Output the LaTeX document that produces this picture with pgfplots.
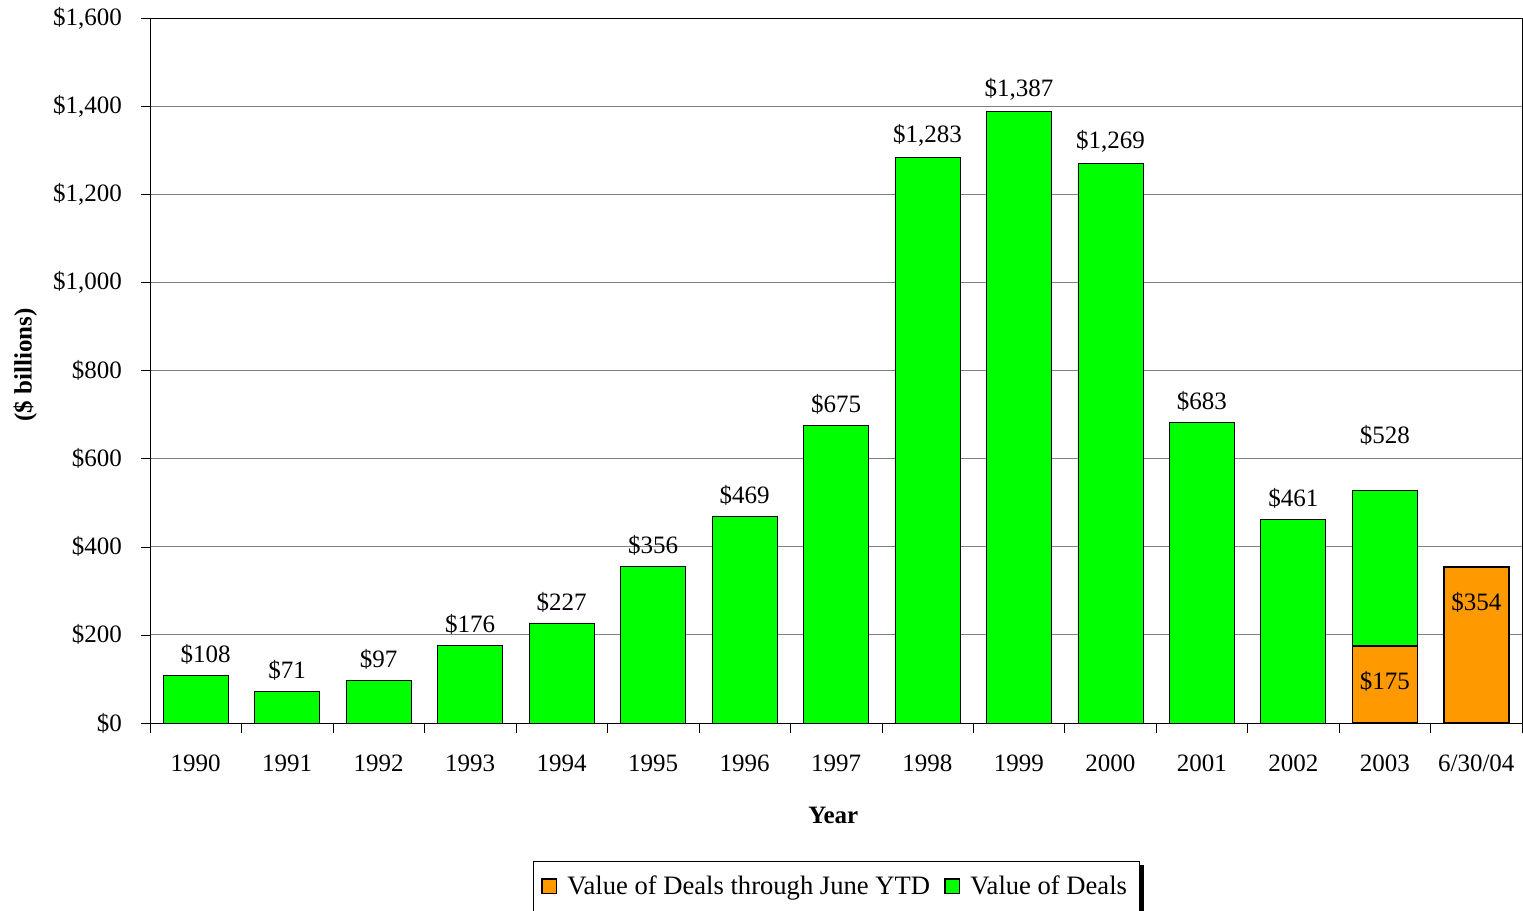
\documentclass[border=0pt]{standalone}
\usepackage{fontspec}
\setmainfont{Liberation Serif}
\usepackage{pgfplots}
\pgfplotsset{compat=1.18}
\definecolor{dgreen}{HTML}{00FF00}
\definecolor{dorange}{HTML}{FF9900}
\newcommand\cf{\fontsize{12.5pt}{15pt}\selectfont}
\newcommand\lf{\fontsize{13.3pt}{16pt}\selectfont}
\begin{document}
\begin{tikzpicture}
\path[use as bounding box] (-75pt,-94pt) rectangle (686.5pt,361.5pt);
\begin{axis}[
  at={(0pt,0pt)}, anchor=south west,
  scale only axis, width=686pt, height=352.5pt,
  xmin=-0.5, xmax=14.5, ymin=0, ymax=1600,
  axis line style={black},
  xtick={0,...,14},
  xticklabels={1990,1991,1992,1993,1994,1995,1996,1997,1998,1999,2000,2001,2002,2003,6/30/04},
  major x tick style={draw=none},
  minor xtick={-0.5,0.5,...,14.5},
  minor tick length=5pt,
  minor x tick style={black},
  xtick pos=bottom, ytick pos=left,
  tick align=outside,
  major tick length=4.5pt,
  ytick={0,200,...,1600},
  yticklabels={\$0,\$200,\$400,\$600,\$800,{\$1,000},{\$1,200},{\$1,400},{\$1,600}},
  ymajorgrids, major grid style={draw=black!50},
  major y tick style={black},
  ticklabel style={font=\cf},
  xticklabel style={yshift=-8pt},
  yticklabel style={xshift=-6pt},
  xlabel={\textbf{Year}}, xlabel style={font=\cf, at={(axis description cs:0.498,-0.1305)}, anchor=center},
  ylabel={\textbf{(\$ billions)}}, ylabel style={font=\cf, at={(axis description cs:-0.091,0.508)}, anchor=center},
  /pgf/number format/.cd, 1000 sep={,}, assume math mode=true, /pgfplots/.cd,
  legend style={name=leg, at={(0.5,-0.1957)}, anchor=north, legend columns=2, draw=black, font=\lf,
    inner ysep=5pt, inner xsep=4pt,
    /tikz/every odd column/.append style={column sep=3pt},
    /tikz/every even column/.append style={column sep=5pt}},
  reverse legend,
  legend image code/.code={\draw[#1, thick] (0pt,-3.7pt) rectangle (7.4pt,3.7pt);},
]
\addplot[ybar, bar shift=0pt, bar width=32.5pt, fill=dgreen, draw=black,
  nodes near coords={\$\pgfmathprintnumber{\pgfplotspointmeta}},
  every node near coord/.append style={font=\cf, anchor=south, yshift=2pt, black},
  coordinate style/.condition={x==13}{yshift=17pt},
  coordinate style/.condition={x==0}{xshift=5pt}]
  coordinates {(0,108)(1,71)(2,97)(3,176)(4,227)(5,356)(6,469)(7,675)(8,1283)(9,1387)(10,1269)(11,683)(12,461)(13,528)};
\addlegendentry{Value of Deals}
\addplot[ybar, bar shift=0pt, bar width=32.5pt, fill=dorange, draw=black, thick,
  nodes near coords={\$\pgfmathprintnumber{\pgfplotspointmeta}},
  every node near coord/.append style={font=\cf, anchor=north, yshift=-9pt, black}]
  coordinates {(13,175)(14,354)};
\addlegendentry{Value of Deals through June YTD}
\end{axis}
\fill[black] ([yshift=-2pt]leg.north east) rectangle ([xshift=2.2pt,yshift=-4pt]leg.south east);
\end{tikzpicture}
\end{document}
